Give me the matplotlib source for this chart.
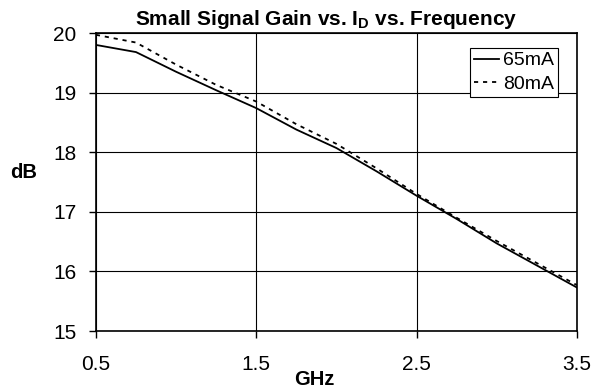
import numpy as np
import matplotlib
matplotlib.use("Agg")
import matplotlib.pyplot as plt

plt.rcParams['font.family'] = ['Liberation Sans', 'DejaVu Sans']
plt.rcParams['mathtext.fontset'] = 'custom'
plt.rcParams['mathtext.rm'] = 'Liberation Sans'
plt.rcParams['mathtext.bf'] = 'Liberation Sans:bold'

# frequency points (GHz) and gain (dB)
freq = [0.5, 0.75, 1.0, 1.25, 1.5, 1.75, 2.0, 2.25, 2.5, 2.75, 3.0, 3.25, 3.5]
gain_65ma = [19.80, 19.68, 19.35, 19.04, 18.74, 18.38, 18.07, 17.68, 17.27, 16.88, 16.47, 16.10, 15.73]
gain_80ma = [19.97, 19.84, 19.47, 19.13, 18.85, 18.47, 18.14, 17.73, 17.30, 16.90, 16.51, 16.14, 15.77]

x_ticks = [0.5, 1.5, 2.5, 3.5]
y_ticks = [15, 16, 17, 18, 19, 20]

fig = plt.figure(figsize=(6.07, 3.92), dpi=100)
ax = fig.add_axes([0.158, 0.1556, 0.7924, 0.7602])

ax.plot(freq, gain_65ma, color='black', lw=1.3, label='65mA')
ax.plot(freq, gain_80ma, color='black', lw=1.3, ls=(0, (2.3, 2.7)), label='80mA')

ax.set_xlim(0.5, 3.5)
ax.set_ylim(15, 20)
ax.set_xticks(x_ticks)
ax.set_yticks(y_ticks)
ax.set_xticklabels([str(v) for v in x_ticks])
ax.tick_params(direction='out', length=5, width=1, labelsize=15)
ax.tick_params(axis='x', pad=12)
ax.tick_params(axis='y', pad=9)
ax.grid(True, color='black', lw=0.8)
ax.set_axisbelow(True)
for s in ax.spines.values():
    s.set_linewidth(1.2)

# title, subscript D dropped below like the original
fig.text(0.538, 0.936, r'Small Signal Gain vs. $\mathbf{I_D}$ vs. Frequency',
         fontsize=15, fontweight='bold', ha='center', va='baseline')
fig.text(0.518, 0.033, 'GHz', fontsize=14.5, fontweight='bold', ha='center', va='center')
fig.text(0.038, 0.561, 'dB', fontsize=14.5, fontweight='bold', ha='center', va='center')

leg = ax.legend(loc='upper right', fontsize=14, frameon=True, fancybox=False,
                framealpha=1, edgecolor='black', handlelength=1.3,
                handletextpad=0.2, borderpad=0.2, labelspacing=0.3,
                borderaxespad=0, bbox_to_anchor=(0.9605, 0.9497))
leg.get_frame().set_linewidth(0.8)

fig.savefig('out.png', dpi=100)
